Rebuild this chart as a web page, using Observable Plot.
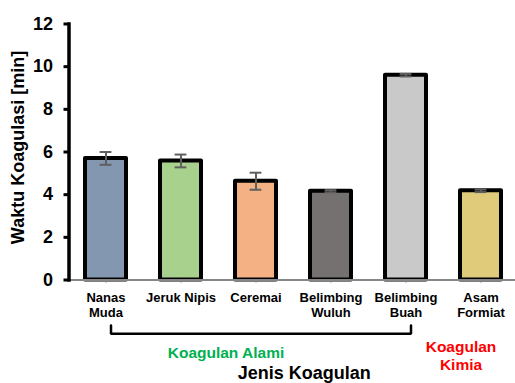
<!DOCTYPE html>
<html>
<head>
<meta charset="utf-8">
<script src="https://cdn.jsdelivr.net/npm/d3@7"></script>
<script src="https://cdn.jsdelivr.net/npm/@observablehq/plot@0.6"></script>
<style>
  html, body { margin: 0; padding: 0; background: #fff; }
</style>
</head>
<body>
<div id="chart"></div>
<script>
// Coagulation time per coagulant type (mean ± error)
const categories = ["Nanas Muda", "Jeruk Nipis", "Ceremai", "Belimbing Wuluh", "Belimbing Buah", "Asam Formiat"];
const tickLabels = ["Nanas\nMuda", "Jeruk Nipis", "Ceremai", "Belimbing\nWuluh", "Belimbing\nBuah", "Asam\nFormiat"];
const waktu = [5.7, 5.58, 4.63, 4.16, 9.6, 4.18];
const galat = [0.3, 0.3, 0.4, 0.05, 0.06, 0.06];
const barColors = ["#8497B0", "#A9D18E", "#F4B183", "#767171", "#C9C9C9", "#DFCB7A"];
const yTicks = [0, 2, 4, 6, 8, 10, 12];

const yTitle = "Waktu Koagulasi [min]";
const xTitle = "Jenis Koagulan";
const groupAlami = "Koagulan Alami";
const groupKimia = "Koagulan\nKimia";

const rows = categories.map((c, i) => ({
  name: c, label: tickLabels[i], value: waktu[i], err: galat[i], color: barColors[i]
}));
const labelOf = new Map(rows.map(d => [d.name, d.label]));

const font = "'Liberation Sans', Arial, Helvetica, sans-serif";

const chart = Plot.plot({
  width: 515,
  height: 383,
  marginLeft: 68.5,
  marginRight: 0,
  marginTop: 23.5,
  marginBottom: 103.5,
  style: { fontFamily: font, fontWeight: "bold", background: "#fff", color: "#000", overflow: "visible" },
  x: { domain: categories, range: [68.5, 518.5], paddingInner: 0.45, paddingOuter: 0.225 },
  y: { domain: [0, 12], range: [279.5, 23.5] },
  marks: [
    // bars with thick black outline
    Plot.barY(rows, {
      x: "name", y: "value", fill: "color",
      stroke: "#000", strokeWidth: 4, strokeLinejoin: "round"
    }),
    // x axis baseline
    Plot.ruleY([0], { stroke: "#868686", strokeWidth: 2 }),
    // error bars
    Plot.ruleX(rows, {
      x: "name", y1: d => d.value - d.err, y2: d => d.value + d.err,
      stroke: "#5f5f5f", strokeWidth: 2
    }),
    Plot.tickY(rows, {
      x: "name", y: d => d.value - d.err, stroke: "#5f5f5f", strokeWidth: 2,
      insetLeft: 14.6, insetRight: 14.6
    }),
    Plot.tickY(rows, {
      x: "name", y: d => d.value + d.err, stroke: "#5f5f5f", strokeWidth: 2,
      insetLeft: 14.6, insetRight: 14.6
    }),
    // y axis line
    Plot.frame({ anchor: "left", stroke: "#000", strokeWidth: 3.5, strokeLinecap: "square" }),
    Plot.axisY({
      ticks: yTicks, tickSize: 5, tickPadding: 11, strokeWidth: 3,
      stroke: "#000", fill: "#000", fontSize: 18, label: null
    }),
    Plot.axisX({
      tickSize: 3, tickPadding: 8, stroke: "#868686", strokeWidth: 1.5, fill: "#000",
      fontSize: 13, lineHeight: 1.19, tickFormat: d => labelOf.get(d), label: null
    }),
    // bracket grouping the natural coagulants
    Plot.line(
      [
        { x: categories[0], y: -2.13 },
        { x: categories[0], y: -2.52 },
        { x: categories[4], y: -2.52 },
        { x: categories[4], y: -2.13 }
      ],
      { x: "x", y: "y", stroke: "#000", strokeWidth: 2.5, dx: 5, strokeLinejoin: "miter" }
    ),
    Plot.text([groupAlami], {
      x: () => categories[1], frameAnchor: "bottom", dx: 45, dy: 77.5,
      lineAnchor: "bottom", fill: "#00B050", fontSize: 15.5, fontWeight: "bold"
    }),
    Plot.text([groupKimia], {
      x: () => categories[5], frameAnchor: "bottom", dx: -20, dy: 90,
      lineAnchor: "bottom", lineHeight: 1.19, fill: "#FF0000", fontSize: 15.5, fontWeight: "bold"
    }),
    // axis titles
    Plot.text([xTitle], {
      frameAnchor: "bottom", dx: 12, dy: 99, lineAnchor: "bottom",
      fill: "#000", fontSize: 18, fontWeight: "bold"
    }),
    Plot.text([yTitle], {
      frameAnchor: "left", textAnchor: "middle", rotate: -90, dx: -50.5, dy: -4.5,
      fill: "#000", fontSize: 18, fontWeight: "bold"
    })
  ]
});

document.getElementById("chart").appendChild(chart);
</script>
</body>
</html>
